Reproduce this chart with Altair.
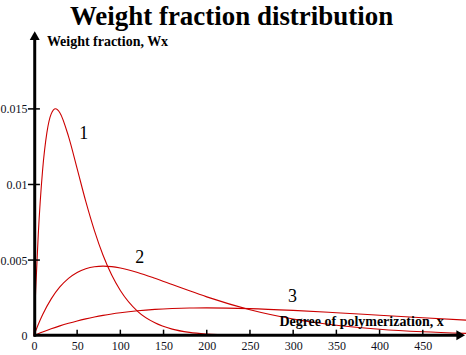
import altair as alt
import pandas as pd

# Curve values
x1 = [0, 2, 5, 10, 15, 20, 25, 30, 40, 50, 60, 70, 80, 90, 100, 120, 140, 160, 180, 200, 230]
w1 = [0, 0.00301, 0.00668, 0.01093, 0.01343, 0.01467, 0.01501, 0.01475, 0.01318, 0.01105,
      0.00888, 0.00695, 0.00532, 0.00401, 0.00299, 0.00161, 0.00085, 0.000434, 0.000219,
      0.000109, 0.000038]

x23 = [0, 5, 10, 20, 30, 40, 50, 60, 70, 80, 90, 100, 120, 140, 160, 180, 200, 250, 300,
       350, 400, 450, 500]
w2 = [0, 0.000734, 0.001379, 0.002434, 0.003222, 0.003791, 0.004182, 0.004429, 0.00456,
      0.004599, 0.004566, 0.004477, 0.004184, 0.003801, 0.003383, 0.002964, 0.002565,
      0.001716, 0.001103, 0.000689, 0.000421, 0.000254, 0.000151]
w3 = [0, 0.000122, 0.000238, 0.000452, 0.000646, 0.000819, 0.000974, 0.001111, 0.001233,
      0.001341, 0.001435, 0.001516, 0.001646, 0.001738, 0.001797, 0.001830, 0.001839,
      0.001791, 0.001673, 0.001520, 0.001353, 0.001186, 0.001026]

x_ticks = [50, 100, 150, 200, 250, 300, 350, 400, 450]
x_labels = [0, 50, 100, 150, 200, 250, 300, 350, 400, 450]
y_ticks = [0.005, 0.01, 0.015]
y_labels = [0, 0.005, 0.01, 0.015]

curve_names = ["1", "2", "3"]

W, H = 433, 303
FONT = "Liberation Serif"
RED = "#cc0000"

rows = []
for xs, ws, name in [(x1, w1, "1"), (x23, w2, "2"), (x23, w3, "3")]:
    for a, b in zip(xs, ws):
        rows.append({"x": a, "w": b, "curve": name})
df = pd.DataFrame(rows)

xscale = alt.Scale(domain=[0, 500], nice=False, zero=False)
yscale = alt.Scale(domain=[0, 0.02], nice=False, zero=False)

curves = alt.Chart(df).mark_line(color=RED, strokeWidth=1.1, interpolate="monotone").encode(
    x=alt.X("x:Q", scale=xscale,
            axis=alt.Axis(values=x_labels, title=None, domain=False, ticks=False, tickSize=0,
                          grid=False, labelFlush=False, labelOverlap=False, labelPadding=5,
                          labelFont=FONT, labelFontSize=12, labelColor="#111122")),
    y=alt.Y("w:Q", scale=yscale,
            axis=alt.Axis(values=y_labels, title=None, domain=False, ticks=False, tickSize=0,
                          grid=False, labelOverlap=False, labelPadding=7,
                          labelExpr="'' + datum.value",
                          labelFont=FONT, labelFontSize=12, labelColor="#111122")),
    detail="curve:N",
)

one = pd.DataFrame({"a": [0]})

yaxis_line = alt.Chart(one).mark_rule(color="black", strokeWidth=3).encode(
    x=alt.value(0.8), y=alt.value(H + 1), y2=alt.value(5))
xaxis_line = alt.Chart(one).mark_rule(color="black", strokeWidth=3).encode(
    x=alt.value(0), x2=alt.value(426), y=alt.value(H - 0.5))
yarrow = alt.Chart(one).mark_point(shape="triangle-up", filled=True, color="black",
                                   size=100, opacity=1).encode(
    x=alt.value(0.8), y=alt.value(2.3))
xarrow = alt.Chart(one).mark_point(shape="triangle-right", filled=True, color="black",
                                   size=100, opacity=1).encode(
    x=alt.value(427.7), y=alt.value(H - 0.5))

xt = alt.Chart(pd.DataFrame({"t": x_ticks})).mark_rule(color="black", strokeWidth=1.5).encode(
    x=alt.X("t:Q", scale=xscale), y=alt.value(H - 6), y2=alt.value(H))
yt = alt.Chart(pd.DataFrame({"t": y_ticks})).mark_rule(color="black", strokeWidth=1.5).encode(
    y=alt.Y("t:Q", scale=yscale), x=alt.value(-6), x2=alt.value(6))

def label(text, px, py, size, bold=False, align="left"):
    return alt.Chart(one).mark_text(
        text=text, font=FONT, fontSize=size, fontWeight="bold" if bold else "normal",
        align=align, baseline="alphabetic", color="black").encode(
        x=alt.value(px), y=alt.value(py))

title = label("Weight fraction distribution", 198, -8, 27, bold=True, align="center")
ytitle = label("Weight fraction, Wx", 13, 12.5, 14, bold=True)
xtitle = label("Degree of polymerization, x", 246, 293, 14, bold=True)
l1 = label(curve_names[0], 50, 106, 18, align="center")
l2 = label(curve_names[1], 106, 230, 18, align="center")
l3 = label(curve_names[2], 259, 269, 18, align="center")

chart = alt.layer(
    curves, xt, yt, yaxis_line, xaxis_line, yarrow, xarrow,
    title, ytitle, xtitle, l1, l2, l3
).properties(
    width=W, height=H,
    padding={"left": 34, "top": 33, "right": 0, "bottom": 19},
    autosize=alt.AutoSizeParams(type="none"),
    background="white",
).configure_view(stroke=None)

chart.save("out.html", embed_options={"renderer": "svg", "actions": False})
